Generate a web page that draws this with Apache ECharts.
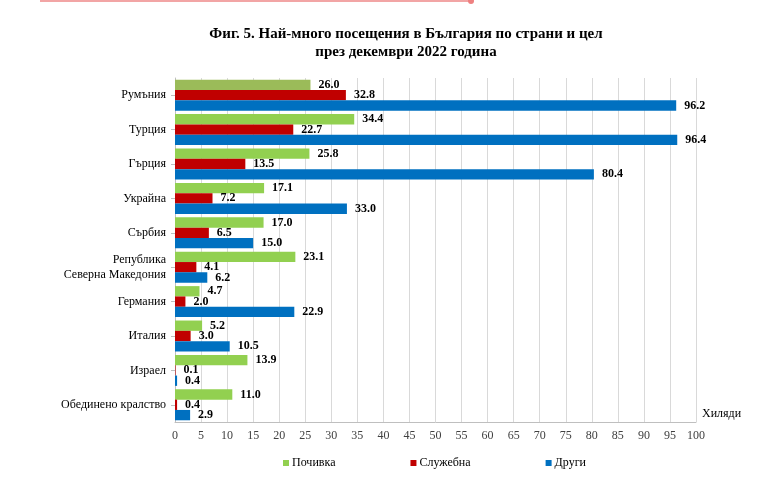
<!DOCTYPE html>
<html>
<head>
<meta charset="utf-8">
<script src="https://cdn.jsdelivr.net/npm/echarts@6/dist/echarts.min.js"></script>
<style>html,body{margin:0;padding:0;background:#fff}#c{width:768px;height:504px}</style>
</head>
<body>
<div id="c"></div>
<script>
var categories = ['Румъния','Турция','Гърция','Украйна','Сърбия','Република\nСеверна Македония','Германия','Италия','Израел','Обединено кралство'];
var seriesNames = ['Почивка','Служебна','Други'];
var vacation = [26.0, 34.4, 25.8, 17.1, 17.0, 23.1, 4.7, 5.2, 13.9, 11.0];
var business = [32.8, 22.7, 13.5, 7.2, 6.5, 4.1, 2.0, 3.0, 0.1, 0.4];
var other = [96.2, 96.4, 80.4, 33.0, 15.0, 6.2, 22.9, 10.5, 0.4, 2.9];
var colors = ['#92D050','#C00000','#0070C0'];

var serif = '"Liberation Serif","DejaVu Serif",serif';
function mk(name, data, color){
  return {
    name: name, type: 'bar', data: data,
    barGap: '0%', barCategoryGap: '10%',
    itemStyle: {color: color},
    label: {show: true, position: 'right', distance: 8, color: '#000', fontFamily: serif, fontWeight: 'bold', fontSize: 12,
      formatter: function(p){ return Number(p.value).toFixed(1); }}
  };
}
var s0 = mk(seriesNames[0], vacation.map(function(v, i){ return i === 0 ? {value: v, itemStyle: {color: '#9BBB59'}} : v; }), colors[0]);
var chart = echarts.init(document.getElementById('c'));
chart.setOption({
  animation: false,
  backgroundColor: '#fff',
  title: {
    text: 'Фиг. 5. Най-много посещения в България по страни и цел\nпрез декември 2022 година',
    left: 401, top: 20, textAlign: 'center',
    textStyle: {fontFamily: serif, fontWeight: 'bold', fontSize: 15, lineHeight: 18, color: '#000'}
  },
  graphic: [
    {type: 'line', shape: {x1: 40, y1: 1, x2: 470, y2: 1}, style: {stroke: '#f2a5a5', lineWidth: 2}},
    {type: 'circle', shape: {cx: 471, cy: 1, r: 3}, style: {fill: '#ee8080'}}
  ],
  legend: {
    data: seriesNames, left: 278, top: 452, itemWidth: 6, itemHeight: 6, itemGap: 75,
    icon: 'rect',
    textStyle: {fontFamily: serif, fontSize: 12, color: '#000', padding: [0,0,0,-2]}
  },
  grid: {left: 175, right: 72, top: 78, bottom: 82, containLabel: false},
  xAxis: {
    type: 'value', min: 0, max: 100, interval: 5,
    name: 'Хиляди', nameLocation: 'end', nameGap: 6,
    nameTextStyle: {fontFamily: serif, fontSize: 12, color: '#000', verticalAlign: 'bottom', padding: [0,0,2,0]},
    axisLine: {show: true, lineStyle: {color: '#bfbfbf'}},
    axisTick: {show: false},
    axisLabel: {fontFamily: serif, fontSize: 12, color: '#404040', margin: 8},
    splitLine: {show: true, lineStyle: {color: '#d9d9d9'}}
  },
  yAxis: {
    type: 'category', data: categories, inverse: true,
    axisLine: {show: true, lineStyle: {color: '#bfbfbf'}},
    axisTick: {show: true, length: 4, alignWithLabel: true, lineStyle: {color: '#bfbfbf'}},
    axisLabel: {fontFamily: serif, fontSize: 12, color: '#000', margin: 9, lineHeight: 15}
  },
  series: [s0, mk(seriesNames[1], business, colors[1]), mk(seriesNames[2], other, colors[2])]
});
</script>
</body>
</html>
